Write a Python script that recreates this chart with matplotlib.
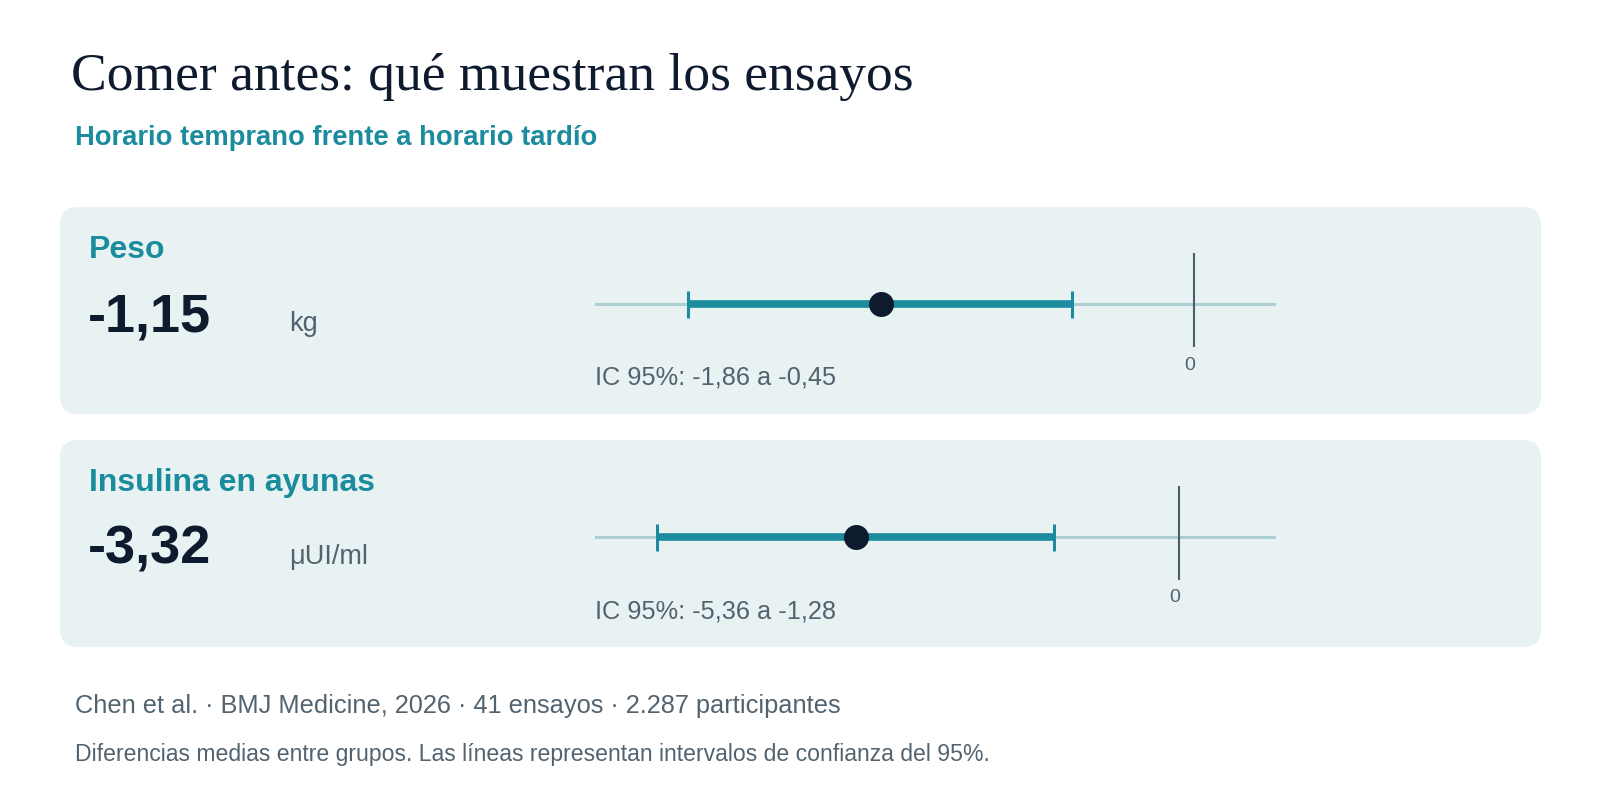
import matplotlib
matplotlib.use("Agg")
import matplotlib.pyplot as plt
from matplotlib.patches import FancyBboxPatch

# ---- data ----
outcomes = ["Peso", "Insulina en ayunas"]
estimates = [-1.15, -3.32]
ci_low = [-1.86, -5.36]
ci_high = [-0.45, -1.28]
units = ["kg", "μUI/ml"]
axis_ranges = [(-2.2, 0.3), (-6.0, 1.0)]

title = "Comer antes: qué muestran los ensayos"
subtitle = "Horario temprano frente a horario tardío"
source = "Chen et al. · BMJ Medicine, 2026 · 41 ensayos · 2.287 participantes"
note = "Diferencias medias entre grupos. Las líneas representan intervalos de confianza del 95%."

# ---- style ----
NAVY = "#0E1B2E"
TEAL = "#1A8C9D"
GREY = "#52636F"
PANEL = "#E8F2F3"
AXLINE = "#AECFD2"
ZERO = "#4A5E6B"
SANS = ["Liberation Sans", "DejaVu Sans"]
SERIF = ["Liberation Serif", "DejaVu Serif"]

W, H = 1600, 800
fig = plt.figure(figsize=(16, 8), dpi=100)
fig.patch.set_facecolor("white")

bg = fig.add_axes([0, 0, 1, 1])
bg.set_xlim(0, W)
bg.set_ylim(H, 0)
bg.axis("off")

def fmt(v):
    return f"{v:.2f}".replace(".", ",")

bg.text(71, 90, title, fontsize=38.5, family=SERIF, color=NAVY, va="baseline", ha="left")
bg.text(75, 145, subtitle, fontsize=19.7, family=SANS, weight="bold", color=TEAL,
        va="baseline", ha="left")

panel_top = [207, 440]
panel_h = 207
for i, name in enumerate(outcomes):
    top = panel_top[i]
    bg.add_patch(FancyBboxPatch((60, top), 1481, panel_h,
                                boxstyle="round,pad=0,rounding_size=18",
                                facecolor=PANEL, edgecolor="none"))
    bg.text(89, top + 43, name, fontsize=23, family=SANS, weight="bold", color=TEAL,
            va="center", ha="left")
    bg.text(88, top + 110, fmt(estimates[i]), fontsize=39, family=SANS, weight="bold",
            color=NAVY, va="center", ha="left")
    bg.text(289, top + 117, units[i], fontsize=19.5, family=SANS, color=GREY,
            va="center", ha="left")
    bg.text(595, top + 171, f"IC 95%: {fmt(ci_low[i])} a {fmt(ci_high[i])}",
            fontsize=18.3, family=SANS, color=GREY, va="center", ha="left")

    # forest axes: pixel box x 595-1276, y (top+46)-(top+140); axis line at top+97
    ax_top = top + 46
    ax_bot = top + 140
    ax = fig.add_axes([595 / W, 1 - ax_bot / H, (1276 - 595) / W, (ax_bot - ax_top) / H])
    ax.set_xlim(*axis_ranges[i])
    line_y = top + 97
    ax.set_ylim(-(ax_bot - line_y), line_y - ax_top)
    ax.axis("off")
    ax.patch.set_alpha(0)
    ax.axhline(0, color=AXLINE, lw=2.2, zorder=1)
    ax.axvline(0, color=ZERO, lw=1.5, zorder=2)
    ax.hlines(0, ci_low[i], ci_high[i], color=TEAL, lw=5.5, zorder=3)
    ax.vlines([ci_low[i], ci_high[i]], -13.5, 13.5, color=TEAL, lw=2.2, zorder=3)
    ax.plot([estimates[i]], [0], "o", color=NAVY, markersize=18, zorder=4,
            markeredgewidth=0)
    ax.annotate("0", xy=(0, -61), xytext=(-3, 0), textcoords="offset points",
                fontsize=14, family=SANS, color=GREY, ha="center", va="center",
                annotation_clip=False)

bg.text(75, 706, source, fontsize=18.3, family=SANS, color=GREY, va="center", ha="left")
bg.text(75, 755, note, fontsize=16.6, family=SANS, color=GREY, va="center", ha="left")

fig.savefig("out.png", dpi=100, facecolor="white")
